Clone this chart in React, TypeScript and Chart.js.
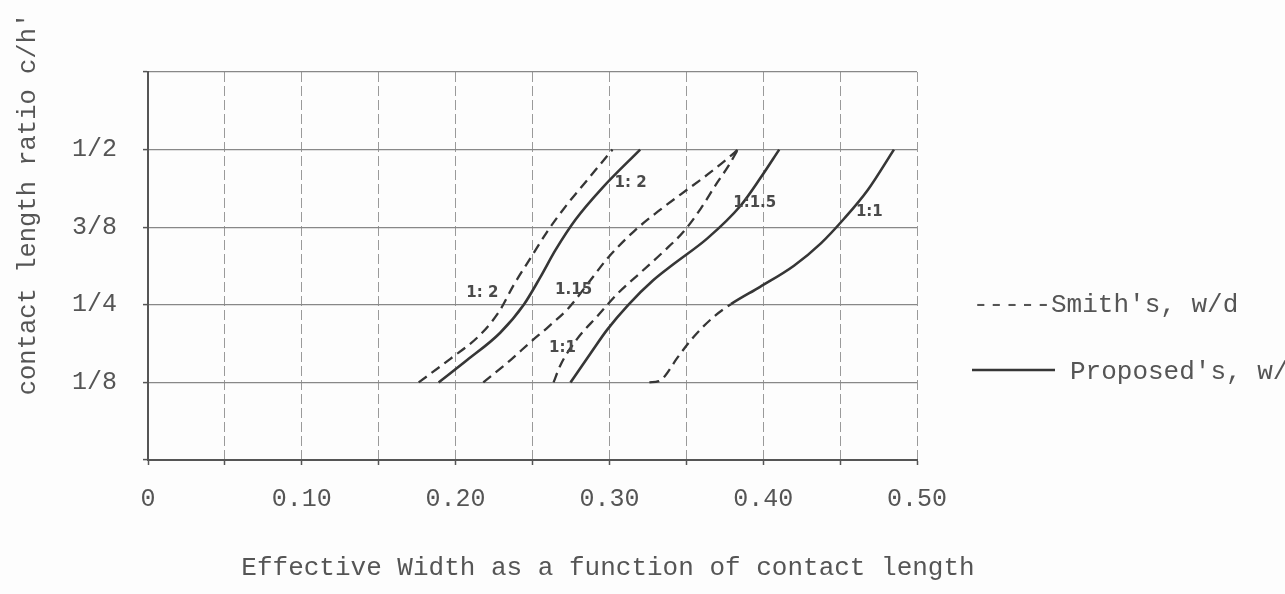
import React, { useEffect, useRef } from 'react';
import { Chart, registerables } from 'chart.js';

Chart.register(...registerables);

// ---- tick values & labels ----
const xTickValues = [0, 0.1, 0.2, 0.3, 0.4, 0.5];
const xTickLabels = ['0', '0.10', '0.20', '0.30', '0.40', '0.50'];
const yTickValues = [0.125, 0.25, 0.375, 0.5];
const yTickLabels = ['1/8', '1/4', '3/8', '1/2'];

// ---- series (x = effective width, y = contact length ratio c/h') ----
const smith_1_2: [number, number][] = [
  [0.176, 0.125], [0.1966, 0.163], [0.2161, 0.202], [0.2285, 0.24], [0.2378, 0.282],
  [0.2487, 0.325], [0.2596, 0.368], [0.2726, 0.412], [0.2856, 0.451], [0.302, 0.5],
];
const proposed_1_2: [number, number][] = [
  [0.189, 0.125], [0.2075, 0.161], [0.229, 0.205], [0.2443, 0.25], [0.2552, 0.295],
  [0.2649, 0.338], [0.2779, 0.387], [0.2953, 0.438], [0.32, 0.5],
];
const smith_1_15: [number, number][] = [
  [0.218, 0.125], [0.2357, 0.161], [0.2487, 0.19], [0.2605, 0.215], [0.2735, 0.245],
  [0.2878, 0.29], [0.2988, 0.325], [0.3158, 0.368], [0.3314, 0.4], [0.3464, 0.428],
  [0.3639, 0.46], [0.377, 0.486], [0.3835, 0.5],
];
const smith_1_1: [number, number][] = [
  [0.2637, 0.125], [0.268, 0.152], [0.2793, 0.196], [0.2923, 0.232], [0.3053, 0.268],
  [0.3203, 0.302], [0.3353, 0.336], [0.3483, 0.368], [0.3594, 0.405], [0.3704, 0.448],
  [0.377, 0.472], [0.3835, 0.5],
];
const proposed_1_15: [number, number][] = [
  [0.2747, 0.125], [0.2878, 0.172], [0.2986, 0.21], [0.3123, 0.25], [0.3283, 0.289],
  [0.342, 0.316], [0.3637, 0.357], [0.3854, 0.41], [0.3984, 0.455], [0.4104, 0.5],
];
// lower part (first segments) drawn dashed in the original
const proposed_1_1: [number, number][] = [
  [0.326, 0.125], [0.332, 0.127], [0.336, 0.135], [0.344, 0.164], [0.355, 0.199],
  [0.368, 0.231], [0.379, 0.251], [0.398, 0.279], [0.42, 0.313], [0.4375, 0.349],
  [0.4527, 0.389], [0.468, 0.435], [0.485, 0.5],
];
const proposed_1_1_dashedSegments = 6;

// ---- curve annotations ----
const curveLabels = [
  { text: '1: 2', x: 0.3138, y: 0.446 },
  { text: '1:1.5', x: 0.3945, y: 0.414 },
  { text: '1:1', x: 0.469, y: 0.4 },
  { text: '1: 2', x: 0.2174, y: 0.269 },
  { text: '1.15', x: 0.2767, y: 0.274 },
  { text: '1:1', x: 0.2695, y: 0.18 },
];

const xTitle = 'Effective Width as a function of contact length';
const yTitle = "contact length ratio c/h'";
const smithLegend = "-----Smith's, w/d";
const proposedLegend = "Proposed's, w/d";

const MONO = "'Liberation Mono', 'DejaVu Sans Mono', monospace";
const TEXT = '#555';
const LINE = '#363636';
const DASH = [10, 6];

const toPts = (a: [number, number][]) => a.map(([x, y]) => ({ x, y }));

const paperPlugin = {
  id: 'paperText',
  beforeDraw(chart: any) {
    const { ctx, width, height } = chart;
    ctx.save();
    ctx.fillStyle = '#fdfdfd';
    ctx.fillRect(0, 0, width, height);
    ctx.restore();
  },
  afterDraw(chart: any) {
    const { ctx } = chart;
    const xs = chart.scales.x;
    const ys = chart.scales.y;
    ctx.save();
    ctx.fillStyle = TEXT;
    ctx.textBaseline = 'middle';

    // axis titles
    ctx.font = `26px ${MONO}`;
    ctx.textAlign = 'center';
    ctx.fillText(xTitle, 608, 568);
    ctx.save();
    ctx.translate(28, 204);
    ctx.rotate(-Math.PI / 2);
    ctx.font = `25.5px ${MONO}`;
    ctx.fillText(yTitle, 0, 0);
    ctx.restore();

    // legend
    ctx.textAlign = 'left';
    ctx.font = `26px ${MONO}`;
    ctx.fillText(smithLegend, 973, 305);
    ctx.strokeStyle = LINE;
    ctx.lineWidth = 2.5;
    ctx.beginPath();
    ctx.moveTo(972, 370);
    ctx.lineTo(1055, 370);
    ctx.stroke();
    ctx.fillText(proposedLegend, 1070, 372);

    // curve labels
    ctx.font = `bold 15px 'DejaVu Sans', sans-serif`;
    ctx.textAlign = 'center';
    ctx.fillStyle = '#4a4a4a';
    for (const l of curveLabels) {
      ctx.fillText(l.text, xs.getPixelForValue(l.x), ys.getPixelForValue(l.y));
    }
    ctx.restore();
  },
};

const labelFor = (values: number[], labels: string[]) => (v: number) => {
  const i = values.findIndex((t) => Math.abs(t - v) < 1e-6);
  return i >= 0 ? labels[i] : '';
};

export default function App() {
  const ref = useRef<HTMLCanvasElement | null>(null);

  useEffect(() => {
    document.body.style.margin = '0';
    const canvas = ref.current;
    if (!canvas) return;

    const solid = (label: string, data: [number, number][]) => ({
      label,
      data: toPts(data),
      showLine: true,
      borderColor: LINE,
      borderWidth: 2.6,
      pointRadius: 0,
      cubicInterpolationMode: 'monotone',
      fill: false,
    });
    const dashed = (label: string, data: [number, number][]) => ({
      ...solid(label, data),
      borderWidth: 2.3,
      borderDash: DASH,
    });

    const chart = new Chart(canvas, {
      type: 'scatter',
      data: {
        datasets: [
          dashed("Smith's 1:2", smith_1_2),
          solid("Proposed's 1:2", proposed_1_2),
          dashed("Smith's 1:1.5", smith_1_15),
          dashed("Smith's 1:1", smith_1_1),
          solid("Proposed's 1:1.5", proposed_1_15),
          {
            ...solid("Proposed's 1:1", proposed_1_1),
            segment: {
              borderDash: (ctx: any) =>
                ctx.p0DataIndex < proposed_1_1_dashedSegments ? DASH : undefined,
              borderWidth: (ctx: any) =>
                ctx.p0DataIndex < proposed_1_1_dashedSegments ? 2.3 : undefined,
            },
          } as any,
        ],
      },
      options: {
        animation: false,
        responsive: false,
        maintainAspectRatio: false,
        layout: { padding: { left: 0, right: 368, top: 72, bottom: 0 } },
        plugins: { legend: { display: false }, tooltip: { enabled: false } },
        scales: {
          x: {
            type: 'linear',
            min: 0,
            max: 0.5,
            afterFit: (s: any) => {
              s.height = 134;
            },
            ticks: {
              stepSize: 0.05,
              autoSkip: false,
              maxRotation: 0,
              padding: 19,
              color: TEXT,
              font: { family: MONO, size: 25 },
              callback: (v: any) => labelFor(xTickValues, xTickLabels)(Number(v)),
            },
            grid: {
              color: '#9a9a9a',
              lineWidth: 1,
              tickLength: 5,
              tickColor: '#555',
              tickWidth: 1.5,
              tickBorderDash: [],
            },
            border: { display: true, color: '#555', width: 2, dash: [10, 4] },
          },
          y: {
            type: 'linear',
            min: 0,
            max: 0.625,
            afterFit: (s: any) => {
              s.width = 148;
            },
            ticks: {
              stepSize: 0.125,
              autoSkip: false,
              padding: 26,
              color: TEXT,
              font: { family: MONO, size: 25 },
              callback: (v: any) => labelFor(yTickValues, yTickLabels)(Number(v)),
            },
            grid: {
              color: '#888',
              lineWidth: 1.2,
              tickLength: 5,
              tickColor: '#555',
              tickWidth: 1.5,
              tickBorderDash: [],
            },
            border: { display: true, color: '#555', width: 2, dash: [] },
          },
        },
      },
      plugins: [paperPlugin],
    } as any);

    return () => chart.destroy();
  }, []);

  return (
    <div style={{ width: 1285, height: 594 }}>
      <canvas ref={ref} width={1285} height={594} style={{ display: 'block' }} />
    </div>
  );
}
